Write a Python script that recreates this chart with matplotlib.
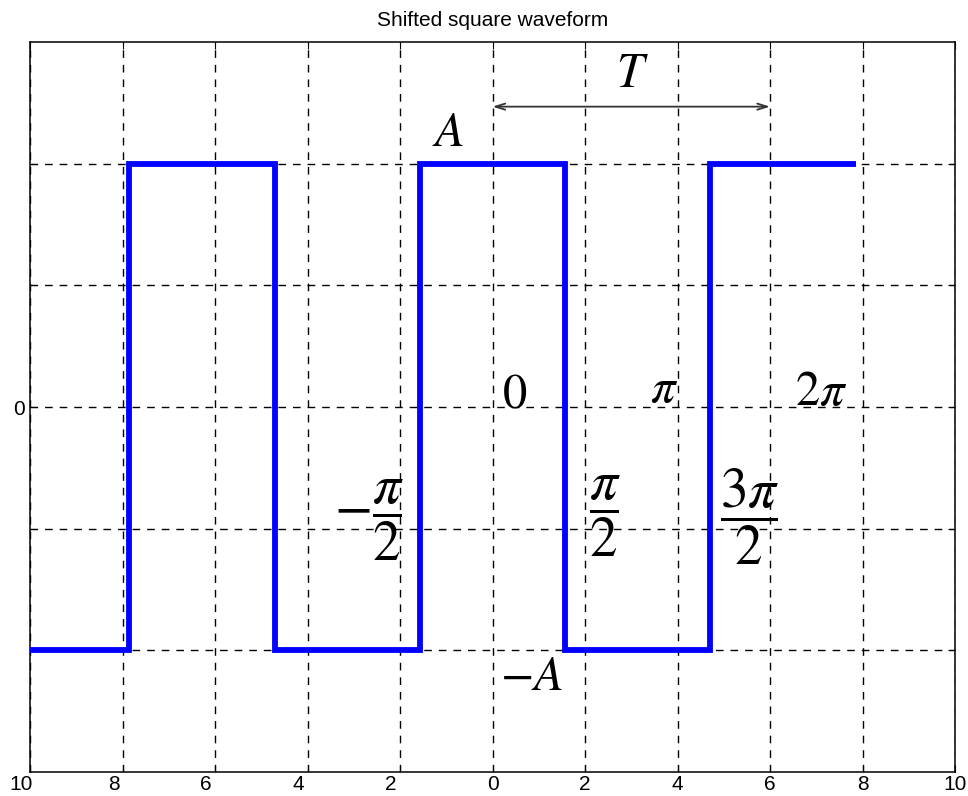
import numpy as np
import matplotlib
matplotlib.use("Agg")
import matplotlib.pyplot as plt
from matplotlib.transforms import ScaledTranslation

plt.rcParams['mathtext.fontset'] = 'stix'
plt.rcParams['font.family'] = ['Liberation Sans', 'DejaVu Sans']

A = 2.0
pi = np.pi
edges = [-10, -5 * pi / 2, -3 * pi / 2, -pi / 2, pi / 2, 3 * pi / 2, 5 * pi / 2]
levels = [-A, A, -A, A, -A, A]

xticks = [-10, -8, -6, -4, -2, 0, 2, 4, 6, 8, 10]
xtick_labels = ['10', '8', '6', '4', '2', '0', '2', '4', '6', '8', '10']
yticks = [-2, -1, 0, 1, 2]
ytick_labels = ['', '', '0', '', '']

fig = plt.figure(figsize=(9.68, 7.96), dpi=100)
ax = fig.add_axes([0.031, 0.0302, 0.9556, 0.9168])

ax.stairs(levels, edges, baseline=None, color='#0000ff', linewidth=4.2, zorder=3)

ax.set_xlim(-10, 10)
ax.set_ylim(-3, 3)
ax.set_xticks(xticks)
ax.set_xticklabels(xtick_labels)
ax.set_yticks(yticks)
ax.set_yticklabels(ytick_labels)
ax.tick_params(direction='in', top=True, right=True, labelsize=15, length=5)
ax.tick_params(axis='x', pad=2)
ax.tick_params(axis='y', pad=4)
# negative tick labels keep the place of their (missing) minus sign
for t, lab in zip(xticks, ax.get_xticklabels()):
    if t < 0:
        lab.set_transform(lab.get_transform() +
                          ScaledTranslation(-0.09, 0, fig.dpi_scale_trans))
ax.grid(True, color='black', linestyle=(0, (5.5, 5)), linewidth=1.0)
for s in ax.spines.values():
    s.set_linewidth(1.1)

ax.set_title('Shifted square waveform', fontsize=15, pad=12)

fs = 35
ffs = 40
ax.text(-0.97, 2.15, r'$A$', fontsize=fs, ha='center', va='baseline')
ax.text(3.03, 2.63, r'$T$', fontsize=fs, ha='center', va='baseline')
ax.annotate('', xy=(0, 2.47), xytext=(6, 2.47),
            arrowprops=dict(arrowstyle='<->,head_length=0.7,head_width=0.22',
                            color='#333333', lw=1.3, shrinkA=0, shrinkB=0))
ax.text(0.48, 0.0, r'$0$', fontsize=fs, ha='center', va='baseline')
ax.text(3.70, 0.04, r'$\pi$', fontsize=fs, ha='center', va='baseline')
ax.text(7.11, 0.02, r'$2\pi$', fontsize=fs, ha='center', va='baseline')
ax.text(-2.68, -0.93, r'$-\dfrac{\pi}{2}$', fontsize=ffs, ha='center', va='center')
ax.text(2.44, -0.90, r'$\dfrac{\pi}{2}$', fontsize=ffs, ha='center', va='center')
ax.text(5.56, -0.90, r'$\dfrac{3\pi}{2}$', fontsize=ffs, ha='center', va='center')
ax.text(0.84, -2.33, r'$-A$', fontsize=fs, ha='center', va='baseline')

fig.savefig('out.png', dpi=100)
